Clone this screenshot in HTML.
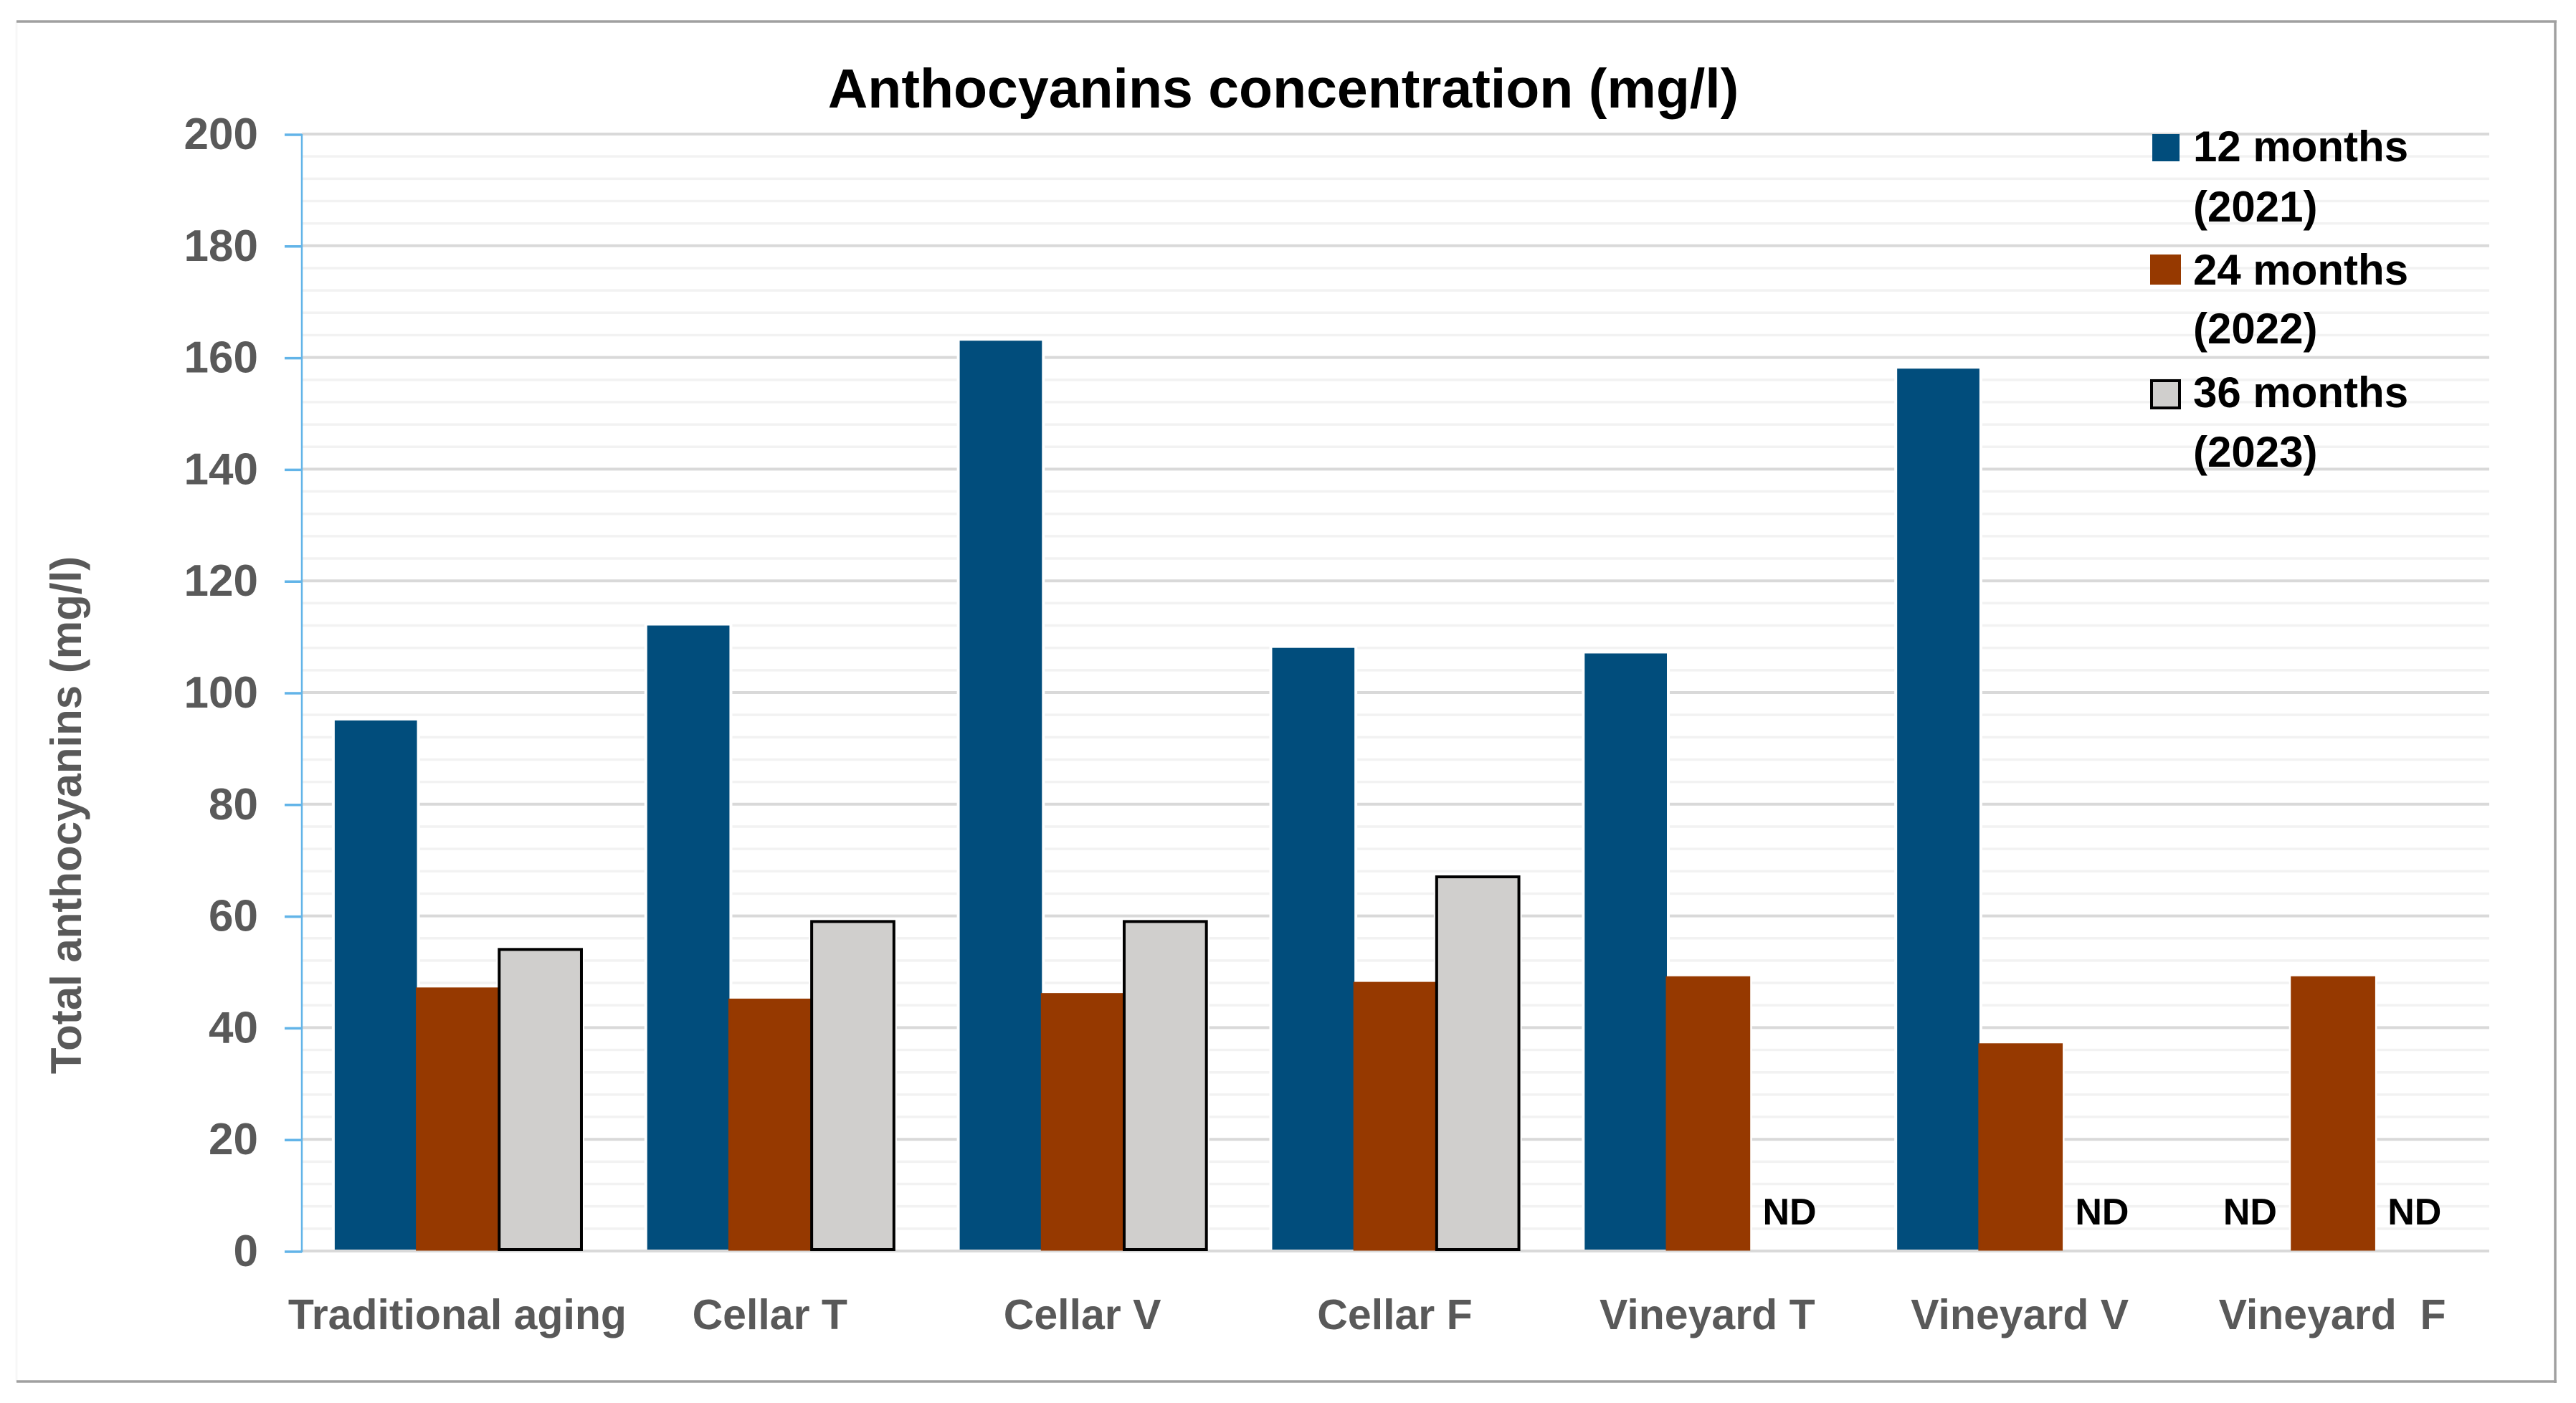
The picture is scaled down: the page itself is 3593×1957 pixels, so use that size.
<!DOCTYPE html>
<html>
<head>
<meta charset="utf-8">
<title>Anthocyanins concentration</title>
<style>
html,body{margin:0;padding:0;background:#fff;width:3593px;height:1957px;overflow:hidden}
svg{display:block}
text{font-family:"Liberation Sans",Arial,sans-serif;font-weight:bold}
</style>
</head>
<body>
<svg id="chart" xmlns="http://www.w3.org/2000/svg" width="3593" height="1957" viewBox="0 0 3593 1957">
  <rect x="0" y="0" width="3593" height="1957" fill="#ffffff"/>
  <g>
    <line x1="23" y1="30" x2="23" y2="1927" stroke="#f7f7f7" stroke-width="3"/>
    <line x1="23" y1="30" x2="3566" y2="30" stroke="#a0a0a0" stroke-width="3.5"/>
    <line x1="3564" y1="30" x2="3564" y2="1929" stroke="#a0a0a0" stroke-width="3.5"/>
    <line x1="23" y1="1927" x2="3566" y2="1927" stroke="#a0a0a0" stroke-width="3.5"/>
  </g>
  <g id="grid"></g>
  <g id="halos"></g>
  <g id="bars"></g>
  <g id="axis"></g>
  <g id="xlabels"></g>
  <g id="nd"></g>
  <text x="1790" y="150" font-size="77" text-anchor="middle" fill="#000000">Anthocyanins concentration (mg/l)</text>
  <text transform="translate(113,1137) rotate(-90)" font-size="60" text-anchor="middle" fill="#595959">Total anthocyanins (mg/l)</text>
  <g>
    <g>
      <rect x="3002" y="187" width="38" height="38" fill="#014d7c"/>
      <text x="3059" y="225" font-size="60" fill="#000000">12 months</text>
      <text x="3059" y="309" font-size="60" fill="#000000">(2021)</text>
    </g>
    <g>
      <rect x="2999" y="355" width="43" height="42" fill="#963900"/>
      <text x="3059" y="397" font-size="60" fill="#000000">24 months</text>
      <text x="3059" y="479" font-size="60" fill="#000000">(2022)</text>
    </g>
    <g>
      <rect x="3001" y="531" width="39" height="38" fill="#d0cfcd" stroke="#000000" stroke-width="4"/>
      <text x="3059" y="568" font-size="60" fill="#000000">36 months</text>
      <text x="3059" y="651" font-size="60" fill="#000000">(2023)</text>
    </g>
  </g>
</svg>
<script>
const categories = ["Traditional aging", "Cellar T", "Cellar V", "Cellar F", "Vineyard T", "Vineyard V", "Vineyard  F"];
const months12 = [95, 112, 163, 108, 107, 158, null];
const months24 = [47, 45, 46, 48, 49, 37, 49];
const months36 = [54, 59, 59, 67, null, null, null];
const yTicks = [0, 20, 40, 60, 80, 100, 120, 140, 160, 180, 200];
const yMinorTicks = [4, 8, 12, 16, 24, 28, 32, 36, 44, 48, 52, 56, 64, 68, 72, 76, 84, 88, 92, 96, 104, 108, 112, 116, 124, 128, 132, 136, 144, 148, 152, 156, 164, 168, 172, 176, 184, 188, 192, 196];

const SVG_NS = "http://www.w3.org/2000/svg";
const plotLeft = 421, plotRight = 3472, plotTop = 187, plotBottom = 1745, yMax = 200;
const band = (plotRight - plotLeft) / categories.length;
const slot = 114.7;
const groupStart = (band - 3 * slot) / 2;

function yScale(v) { return plotBottom - (v / yMax) * (plotBottom - plotTop); }
function xSlot(cat, s) { return plotLeft + cat * band + groupStart + s * slot; }
function xCenter(cat) { return plotLeft + cat * band + band / 2; }
function make(tag, attrs, parent) {
  const el = document.createElementNS(SVG_NS, tag);
  for (const k in attrs) el.setAttribute(k, attrs[k]);
  parent.appendChild(el);
  return el;
}

const grid = document.getElementById("grid");
const halos = document.getElementById("halos");
const bars = document.getElementById("bars");
const axis = document.getElementById("axis");
const xlabels = document.getElementById("xlabels");
const nd = document.getElementById("nd");

yMinorTicks.forEach(function (v) {
  const l = make("line", {x1: plotLeft, x2: plotRight, y1: yScale(v), y2: yScale(v), stroke: "#f2f2f2", "stroke-width": 3.5}, grid);
  
  
});
yTicks.forEach(function (v) {
  const l = make("line", {x1: plotLeft, x2: plotRight, y1: yScale(v), y2: yScale(v), stroke: "#d9d9d9", "stroke-width": 4}, grid);
  
  
  const t = make("line", {x1: plotLeft - 24, x2: plotLeft, y1: yScale(v) + 1, y2: yScale(v) + 1, stroke: "#62b4e8", "stroke-width": 3.5}, axis);
  
  
  const lab = make("text", {x: 360, y: yScale(v) + 21, "font-size": 62, "text-anchor": "end", fill: "#595959"}, axis);
  lab.textContent = String(v);
  
  
});
const axisLine = make("line", {x1: plotLeft, x2: plotLeft, y1: plotTop, y2: plotBottom + 2, stroke: "#62b4e8", "stroke-width": 2.5}, axis);



const seriesList = [months12, months24, months36];
const seriesFill = ["#014d7c", "#963900", "#d0cfcd"];
const seriesStroke = ["#014d7c", "#963900", "#000000"];
const seriesWidth = [0, 3, 4];

seriesList.forEach(function (values, s) {
  values.forEach(function (v, c) {
    if (v === null) return;
    const h = make("rect", {x: xSlot(c, s) - 4, y: yScale(v) - 4, width: slot + 8, height: plotBottom - yScale(v) + 2, fill: "#ffffff"}, halos);
    
    
  });
});
seriesList.forEach(function (values, s) {
  values.forEach(function (v, c) {
    if (v === null) {
      const t = make("text", {x: xSlot(c, s) + slot / 2 - 1, y: 1708, "font-size": 52, "text-anchor": "middle", fill: "#000000"}, nd);
      t.textContent = "ND";
      
      
      return;
    }
    const r = make("rect", {x: xSlot(c, s), y: yScale(v), width: slot, height: plotBottom - yScale(v) - 2, fill: seriesFill[s], stroke: seriesStroke[s], "stroke-width": seriesWidth[s]}, bars);
    
    
  });
});
categories.forEach(function (name, c) {
  const t = make("text", {x: xCenter(c) - 1, y: 1854, "font-size": 59, "text-anchor": "middle", fill: "#595959", style: "white-space:pre"}, xlabels);
  t.textContent = name;
  
  
});
</script>
</body>
</html>
